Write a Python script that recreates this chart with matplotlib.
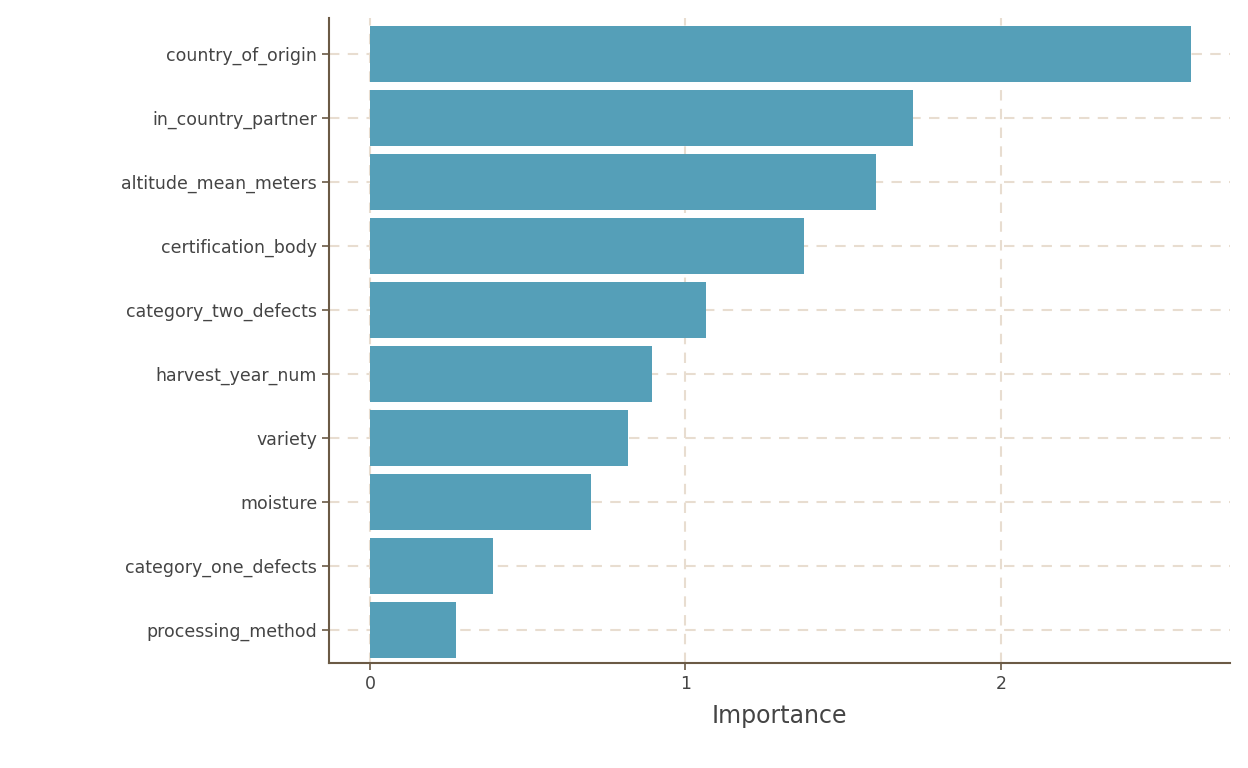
import matplotlib.pyplot as plt

features = ["country_of_origin", "in_country_partner", "altitude_mean_meters",
            "certification_body", "category_two_defects", "harvest_year_num",
            "variety", "moisture", "category_one_defects", "processing_method"]
importance = [2.602, 1.721, 1.604, 1.376, 1.065, 0.894, 0.818, 0.700, 0.390, 0.273]

BAR = "#559fb8"
SPINE = "#6b5a45"
GRID = "#e8ddd0"
TEXT = "#444444"

fig = plt.figure(figsize=(12.48, 7.68), dpi=100)
ax = fig.add_axes([329 / 1248, 105 / 768, 901 / 1248, 645 / 768])

pos = list(range(len(features)))[::-1]
ax.barh(pos, importance, height=0.88, color=BAR, zorder=3)

ax.set_xlim(-0.13, 2.726)
ax.set_ylim(-0.52, len(features) - 1 + 0.56)
ax.set_xticks([0, 1, 2])
ax.set_xticklabels(["0", "1", "2"])
ax.set_yticks(pos)
ax.set_yticklabels(features)

ax.grid(True, color=GRID, linestyle=(0, (5, 4)), linewidth=1.5, zorder=0)
for s in ["top", "right"]:
    ax.spines[s].set_visible(False)
for s in ["left", "bottom"]:
    ax.spines[s].set_color(SPINE)
    ax.spines[s].set_linewidth(1.5)

ax.tick_params(axis="both", colors=SPINE, labelcolor=TEXT, labelsize=12.5, length=5, width=1.2)
ax.set_xlabel("Importance", fontsize=17, color=TEXT, labelpad=8)

fig.savefig("out.png", dpi=100)
